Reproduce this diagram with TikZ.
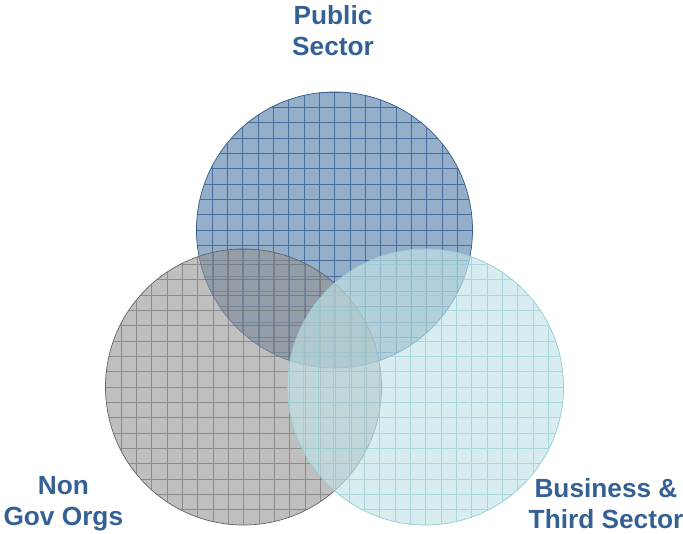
\documentclass[tikz,border=0pt]{standalone}
\usepackage{fontspec}
\setmainfont{Liberation Sans}
\definecolor{labelblue}{RGB}{52, 96, 148}
\definecolor{publicfill}{RGB}{78, 120, 165}
\definecolor{publicline}{RGB}{48, 90, 140}
\definecolor{nongovfill}{RGB}{148, 148, 148}
\definecolor{nongovline}{RGB}{100, 100, 100}
\definecolor{bizfill}{RGB}{193, 227, 230}
\definecolor{bizline}{RGB}{150, 205, 210}
\usetikzlibrary{positioning,calc}

\begin{document}
\begin{tikzpicture}[
    sector/.style={
        circle,
        minimum size=8.28cm,
        inner sep=0pt,
        line width=0.6pt
    },
    gridded/.style={
        path picture={
            \draw[#1, line width=0.4pt, step=0.46cm, shift={(path picture bounding box.center)}]
                (-4.2,-4.2) grid (4.2,4.2);
        }
    },
    caption/.style={
        align=center,
        font=\fontsize{22.4}{26.4}\selectfont\bfseries,
        text=labelblue
    }
]
    \useasboundingbox (0,0) rectangle (20.49,16.02);

    % Circles
    \node[sector, fill=publicfill, fill opacity=0.6, draw=publicline,
          gridded={publicline, opacity=0.75}] (public) at (10.035,9.12) {};
    \node[sector, fill=nongovfill, fill opacity=0.6, draw=nongovline,
          gridded={nongovline, opacity=0.55}] (nongov) at (7.305,4.41) {};
    \node[sector, fill=bizfill, fill opacity=0.65, draw=bizline,
          gridded={bizline, opacity=0.7}] (business) at (12.765,4.41) {};

    % Labels
    \node[caption] (publiclabel) at (9.99,15.105) {Public\\Sector};
    \node[caption] (nongovlabel) at (1.9,0.92) {Non\\Gov Orgs};
    \node[caption] (businesslabel) at (18.18,0.92) {Business \&\\Third Sector};
\end{tikzpicture}
\end{document}
